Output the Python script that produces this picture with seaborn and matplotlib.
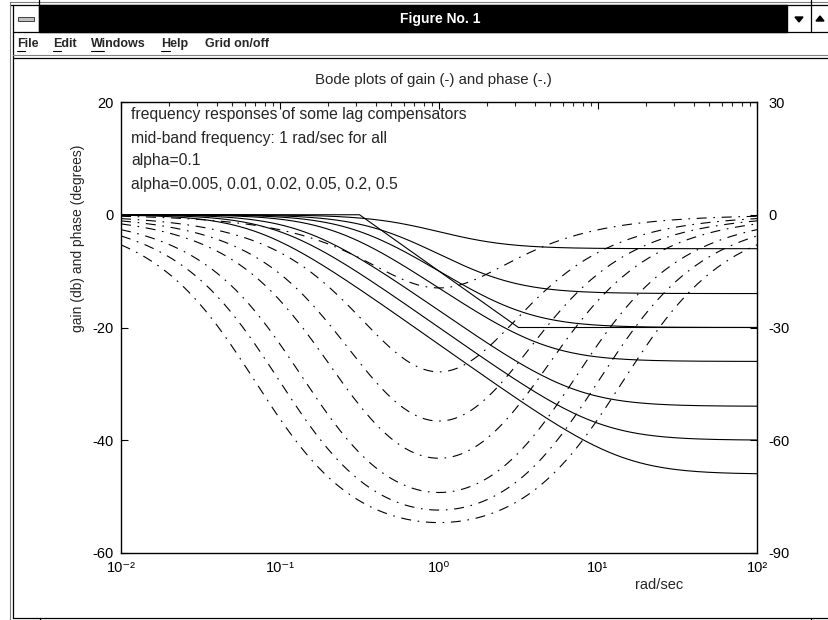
import numpy as np
import pandas as pd
import matplotlib
matplotlib.use("Agg")
import matplotlib.pyplot as plt
import seaborn as sns
from matplotlib.patches import Rectangle, Polygon

# Lag compensators, mid-band frequency 1 rad/sec: zero at 1/sqrt(alpha), pole at sqrt(alpha)
alphas = [0.005, 0.01, 0.02, 0.05, 0.1, 0.2, 0.5]
asym_alpha = 0.1
w_lo, w_hi = 1e-2, 1e2

gain_ticks = [20, 0, -20, -40, -60]
phase_ticks = [30, 0, -30, -60, -90]
x_ticks = [1e-2, 1e-1, 1e0, 1e1, 1e2]
x_tick_labels = ["10\u207b\u00b2", "10\u207b\u00b9", "10\u2070", "10\u00b9", "10\u00b2"]
notes = ["frequency responses of some lag compensators",
         "mid-band frequency: 1 rad/sec for all",
         "alpha=0.1",
         "alpha=0.005, 0.01, 0.02, 0.05, 0.2, 0.5"]
# menu label, left edge, underline end (mnemonic letter)
menu_items = [("File", 17, 25), ("Edit", 53, 61), ("Windows", 91, 104),
              ("Help", 161, 170), ("Grid on/off", 205, None)]

w = np.logspace(-2, 2, 300)
rows = []
for a in alphas:
    z, p = 1 / np.sqrt(a), np.sqrt(a)
    g = (1 + 1j * w / z) / (1 + 1j * w / p)
    gain = 20 * np.log10(np.abs(g))
    phase = np.degrees(np.angle(g))
    rows.append(pd.DataFrame({"w": w, "val": gain, "kind": "gain", "alpha": a}))
    # phase is drawn on the gain scale: -90..30 deg maps onto -60..20 dB
    rows.append(pd.DataFrame({"w": w, "val": phase * 2 / 3, "kind": "phase", "alpha": a}))
curves = pd.concat(rows, ignore_index=True)

# straight-line gain asymptote for alpha = 0.1
zp = [np.sqrt(asym_alpha), 1 / np.sqrt(asym_alpha)]
asym = pd.DataFrame({"w": [w_lo, zp[0], zp[1], w_hi],
                     "val": [0, 0, 20 * np.log10(asym_alpha), 20 * np.log10(asym_alpha)]})

W, H = 829, 620
fig = plt.figure(figsize=(W / 100, H / 100), dpi=100)
sns.set_style("white")
plt.rcParams["font.family"] = ["Liberation Sans", "DejaVu Sans"]

# window frame and menus, in pixel coordinates
bg = fig.add_axes([0, 0, 1, 1], zorder=0)
bg.set_xlim(0, W)
bg.set_ylim(H, 0)
bg.axis("off")
bg.add_patch(Rectangle((0, 0), W, H, color="white", zorder=0))
bg.plot([10, W], [1.5, 1.5], color="#808080", lw=0.8)
bg.plot([10, W], [5, 5], color="black", lw=0.9)
bg.plot([10, 10], [1.5, H], color="#808080", lw=0.8)
bg.plot([13, 13], [5, 618], color="black", lw=0.9)
bg.add_patch(Rectangle((39, 5), 748, 27, color="black", zorder=1))
bg.plot([39, 39], [0, 32], color="black", lw=0.9)
bg.add_patch(Rectangle((18, 17), 16, 4, facecolor="#c0c0c0", edgecolor="#404040", lw=0.7, zorder=2))
bg.plot([811, 811], [0, 32], color="black", lw=0.9)
bg.add_patch(Polygon([[795, 17], [803, 17], [799, 22]], color="black", zorder=2))
bg.add_patch(Polygon([[816, 21], [824, 21], [820, 16]], color="black", zorder=2))
bg.plot([13, W], [32, 32], color="black", lw=0.9)
bg.plot([13, W], [55, 55], color="#808080", lw=0.8)
bg.plot([13, W], [57.5, 57.5], color="black", lw=0.9)
bg.plot([13, W], [618, 618], color="black", lw=0.9)
bg.plot([40, 40], [618, 620], color="black", lw=0.9)
bg.plot([811, 811], [618, 620], color="black", lw=0.9)
bg.text(440, 19, "Figure No. 1", color="white", fontsize=10, fontweight="bold",
        ha="center", va="center", zorder=3)
for label, x0, ux in menu_items:
    bg.text(x0, 44, label, fontsize=9, fontweight="bold", ha="left", va="center", zorder=3)
    if ux is not None:
        bg.plot([x0, ux], [51, 51], color="black", lw=0.8)

# plot area
L, R, T, B = 121, 757, 102, 553
ax = fig.add_axes([L / W, 1 - B / H, (R - L) / W, (B - T) / H], zorder=2)
ax.patch.set_alpha(0)
dashdot = (0, (9, 6, 1.5, 6))
for a in alphas:
    sub = curves[(curves["alpha"] == a)]
    sns.lineplot(data=sub[sub["kind"] == "gain"], x="w", y="val", ax=ax,
                 color="black", lw=0.8, estimator=None, sort=False)
    sns.lineplot(data=sub[sub["kind"] == "phase"], x="w", y="val", ax=ax,
                 color="black", lw=0.8, linestyle=dashdot, estimator=None, sort=False)
sns.lineplot(data=asym, x="w", y="val", ax=ax, color="black", lw=0.8, estimator=None, sort=False)

ax.set_xscale("log")
ax.set_xlim(w_lo, w_hi)
ax.set_ylim(-60, 20)
ax.set_xticks(x_ticks)
ax.set_xticklabels(x_tick_labels)
ax.set_yticks(gain_ticks)
ax.set_yticklabels([str(v) for v in gain_ticks])
ax.set_xlabel("")
ax.set_ylabel("")
for s in ax.spines.values():
    s.set_color("black")
    s.set_linewidth(1.0)
ax.tick_params(axis="both", which="major", direction="in", length=5, width=0.8,
               top=True, labelsize=10.5, colors="black")
ax.tick_params(axis="x", which="major", pad=6)
ax.tick_params(axis="y", which="major", pad=5)
ax.tick_params(axis="x", which="minor", direction="in", length=3, width=0.8, top=True)
ax.tick_params(axis="y", which="both", right=False)

ax2 = ax.twinx()
ax2.set_ylim(-90, 30)
ax2.set_yticks(phase_ticks)
ax2.set_yticklabels([str(v) for v in phase_ticks])
ax2.tick_params(axis="y", direction="in", length=5, width=0.8, labelsize=10.5, pad=8, colors="black")
for s in ax2.spines.values():
    s.set_visible(False)

# titles and notes
bg.text(433, 80, "Bode plots of gain (-) and phase (-.)", fontsize=10.8, ha="center", va="center")
bg.text(78, 238, "gain (db) and phase (degrees)", fontsize=10, rotation=90, ha="center", va="center")
bg.text(659, 585, "rad/sec", fontsize=10.5, ha="center", va="center")
for i, line in enumerate(notes):
    bg.text(131, 115 + 23 * i, line, fontsize=11.3, ha="left", va="center")

fig.savefig("out.png", dpi=100)
